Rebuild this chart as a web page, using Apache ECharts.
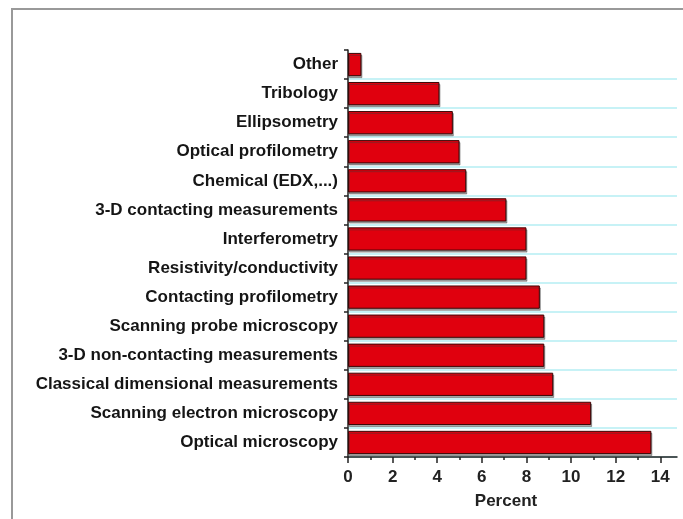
<!DOCTYPE html>
<html>
<head>
<meta charset="utf-8">
<script src="https://cdn.jsdelivr.net/npm/echarts@6/dist/echarts.min.js"></script>
<style>
  html, body { margin: 0; padding: 0; background: #fff; overflow: hidden; }
  #wrap { position: relative; width: 683px; height: 519px; overflow: hidden; }
  #frame { position: absolute; left: 11px; top: 8px; width: 800px; height: 800px; border: 2px solid #999; box-sizing: border-box; }
  #chart { position: absolute; left: 0; top: 0; width: 683px; height: 519px; }
</style>
</head>
<body>
<div id="wrap">
  <div id="frame"></div>
  <div id="chart"></div>
</div>
<script>
// Categories listed top to bottom
const categories = [
  'Other',
  'Tribology',
  'Ellipsometry',
  'Optical profilometry',
  'Chemical (EDX,...)',
  '3-D contacting measurements',
  'Interferometry',
  'Resistivity/conductivity',
  'Contacting profilometry',
  'Scanning probe microscopy',
  '3-D non-contacting measurements',
  'Classical dimensional measurements',
  'Scanning electron microscopy',
  'Optical microscopy'
];
const percentValues = [0.6, 4.1, 4.7, 5.0, 5.3, 7.1, 8.0, 8.0, 8.6, 8.8, 8.8, 9.2, 10.9, 13.6];
const majorTicks = [0, 2, 4, 6, 8, 10, 12, 14];
const minorTicks = [1, 3, 5, 7, 9, 11, 13];
const axisName = 'Percent';

const FONT = 'Liberation Sans, Arial, Helvetica, sans-serif';
const chart = echarts.init(document.getElementById('chart'), null, { renderer: 'canvas' });

chart.setOption({
  animation: false,
  grid: { left: 348, right: 6, top: 50, bottom: 62, containLabel: false },
  xAxis: [
    {
      type: 'value',
      min: 0,
      max: 14.75,
      interval: 2,
      position: 'bottom',
      name: axisName,
      nameLocation: 'middle',
      nameGap: 36,
      nameTextStyle: { fontFamily: FONT, fontSize: 17, fontWeight: 'bold', color: '#222', padding: [0, 13, 0, 0] },
      axisLine: { show: true, lineStyle: { color: '#222', width: 1.5 } },
      axisTick: { show: true, length: 6, customValues: majorTicks, lineStyle: { color: '#222', width: 1.5 } },
      axisLabel: { show: true, customValues: majorTicks, margin: 12, fontFamily: FONT, fontSize: 17, fontWeight: 'bold', color: '#222' },
      splitLine: { show: false }
    },
    {
      type: 'value',
      min: 0,
      max: 14.75,
      interval: 2,
      position: 'bottom',
      offset: 0,
      axisLine: { show: false },
      axisTick: { show: true, length: 3, customValues: minorTicks, lineStyle: { color: '#222', width: 1.5 } },
      axisLabel: { show: false },
      splitLine: { show: false }
    }
  ],
  yAxis: {
    type: 'category',
    data: categories,
    inverse: true,
    axisLine: { show: true, lineStyle: { color: '#222', width: 1.5 } },
    axisTick: { show: true, length: 4, lineStyle: { color: '#222', width: 1.5 } },
    axisLabel: { margin: 10, fontFamily: FONT, fontSize: 17, fontWeight: 'bold', color: '#151515' },
    splitLine: {
      show: true,
      interval: function (index) { return index !== 0; },
      lineStyle: { color: '#b4eef3', width: 1.5 }
    }
  },
  series: [{
    type: 'bar',
    xAxisIndex: 0,
    data: percentValues,
    barCategoryGap: '20%',
    itemStyle: {
      color: '#e0000e',
      borderColor: '#3a0606',
      borderWidth: 1,
      shadowColor: 'rgba(60,60,60,0.45)',
      shadowOffsetX: 1,
      shadowOffsetY: 2,
      shadowBlur: 0
    }
  }]
});
</script>
</body>
</html>
